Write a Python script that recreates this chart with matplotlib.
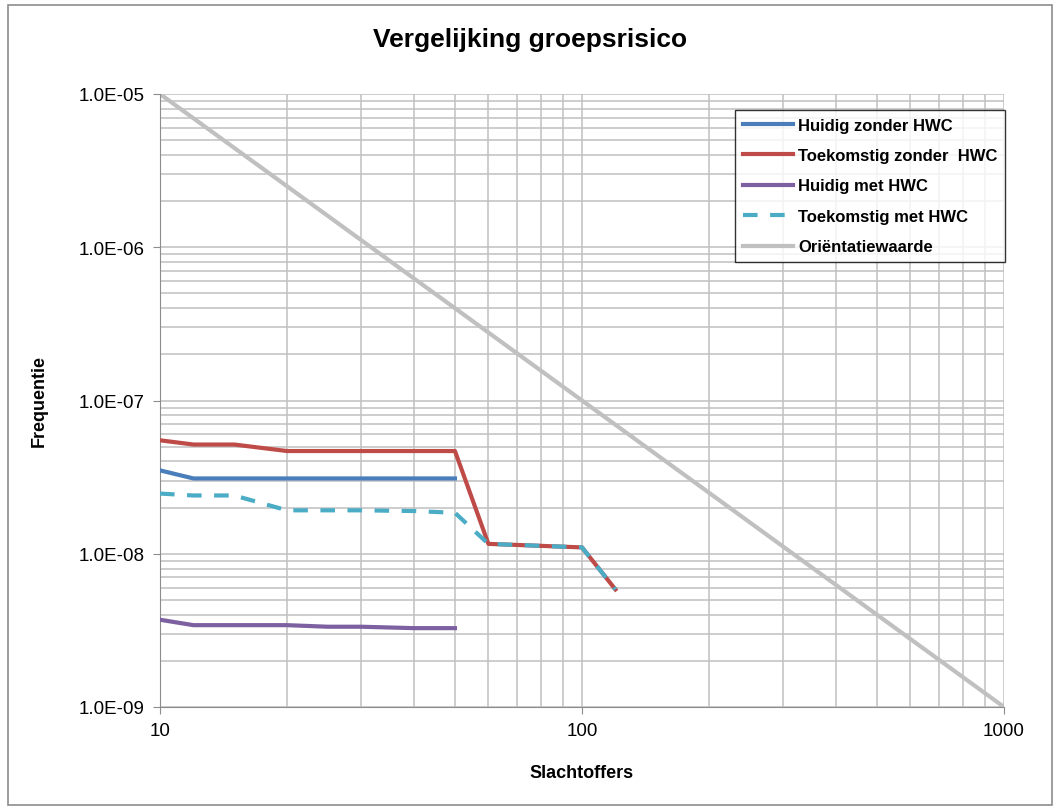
import matplotlib.pyplot as plt
from matplotlib.patches import Rectangle
from matplotlib.ticker import FixedLocator, LogLocator, NullFormatter

plt.rcParams["font.family"] = ["Liberation Sans", "DejaVu Sans"]

# -----------------------------
# Data
# -----------------------------
x_huidig_zonder = [10, 12, 15, 20, 25, 30, 40, 50]
y_huidig_zonder = [3.5e-8, 3.1e-8, 3.1e-8, 3.1e-8, 3.1e-8, 3.1e-8, 3.1e-8, 3.1e-8]

x_toek_zonder = [10, 12, 15, 20, 25, 30, 40, 50, 60, 100, 120]
y_toek_zonder = [5.5e-8, 5.16e-8, 5.16e-8, 4.68e-8, 4.68e-8, 4.68e-8, 4.68e-8,
                 4.68e-8, 1.16e-8, 1.10e-8, 5.85e-9]

x_huidig_met = [10, 12, 15, 20, 25, 30, 40, 50]
y_huidig_met = [3.71e-9, 3.42e-9, 3.42e-9, 3.42e-9, 3.34e-9, 3.34e-9, 3.27e-9, 3.27e-9]

x_toek_met = [10, 12, 15, 20, 25, 30, 40, 50, 60, 100, 120]
y_toek_met = [2.47e-8, 2.40e-8, 2.40e-8, 1.92e-8, 1.92e-8, 1.92e-8, 1.90e-8,
              1.85e-8, 1.16e-8, 1.10e-8, 5.85e-9]

x_orient = [10, 100, 1000]
y_orient = [1e-5, 1e-7, 1e-9]

x_ticks = [10, 100, 1000]
x_tick_labels = ["10", "100", "1000"]
y_ticks = [1e-9, 1e-8, 1e-7, 1e-6, 1e-5]
y_tick_labels = ["1.0E-09", "1.0E-08", "1.0E-07", "1.0E-06", "1.0E-05"]

# -----------------------------
# Plot
# -----------------------------
fig = plt.figure(figsize=(10.61, 8.12), dpi=100)
ax = fig.add_axes([160 / 1061, 1 - 708 / 812, 844 / 1061, 613 / 812])

# outer chart border
fig.patches.append(Rectangle((8 / 1061, 6 / 812), 1044 / 1061, 800 / 812,
                             transform=fig.transFigure, fill=False,
                             edgecolor="#8c8c8c", linewidth=1.2))

ax.plot(x_huidig_zonder, y_huidig_zonder, color="#4a7ebb", lw=3,
        label="Huidig zonder HWC", zorder=4)
ax.plot(x_toek_zonder, y_toek_zonder, color="#be4b48", lw=3,
        label="Toekomstig zonder  HWC", zorder=3)
ax.plot(x_huidig_met, y_huidig_met, color="#7d60a0", lw=3,
        label="Huidig met HWC", zorder=4)
ax.plot(x_toek_met, y_toek_met, color="#4bacc6", lw=3, ls=(0, (3.5, 3)),
        label="Toekomstig met HWC", zorder=5)
ax.plot(x_orient, y_orient, color="#c0c0c0", lw=3,
        label="Oriëntatiewaarde", zorder=2)

ax.set_xscale("log")
ax.set_yscale("log")
ax.set_xlim(10, 1000)
ax.set_ylim(1e-9, 1e-5)

ax.set_xticks(x_ticks, x_tick_labels)
ax.set_yticks(y_ticks, y_tick_labels)
ax.xaxis.set_minor_locator(FixedLocator(
    [m * d for d in (10, 100) for m in range(2, 10)]))
ax.yaxis.set_minor_locator(FixedLocator(
    [m * d for d in (1e-9, 1e-8, 1e-7, 1e-6) for m in range(2, 10)]))
ax.xaxis.set_minor_formatter(NullFormatter())
ax.yaxis.set_minor_formatter(NullFormatter())

ax.grid(True, which="both", color="#c0c0c0", lw=1.1)
ax.set_axisbelow(True)
ax.tick_params(which="major", length=5, color="#8c8c8c", labelsize=13.5, pad=6)
ax.tick_params(which="minor", length=0)
for side in ["top", "right"]:
    ax.spines[side].set_visible(False)
for side in ["left", "bottom"]:
    ax.spines[side].set_color("#8c8c8c")

ax.set_xlabel("Slachtoffers", fontsize=13, fontweight="bold", labelpad=18)
ax.set_ylabel("Frequentie", fontsize=13, fontweight="bold", labelpad=22)
fig.text(0.5, 1 - 40 / 812, "Vergelijking groepsrisico", ha="center", va="center",
         fontsize=19, fontweight="bold")

leg = ax.legend(loc="upper left", bbox_to_anchor=(735 / 1061, 1 - 111 / 812),
                bbox_transform=fig.transFigure, frameon=True, fancybox=False,
                edgecolor="black", prop={"weight": "bold", "size": 12},
                handlelength=3.0, borderpad=0.45, labelspacing=0.93,
                handletextpad=0.35, borderaxespad=0)
leg.get_frame().set_linewidth(1.0)

fig.savefig("out.png", dpi=100)
